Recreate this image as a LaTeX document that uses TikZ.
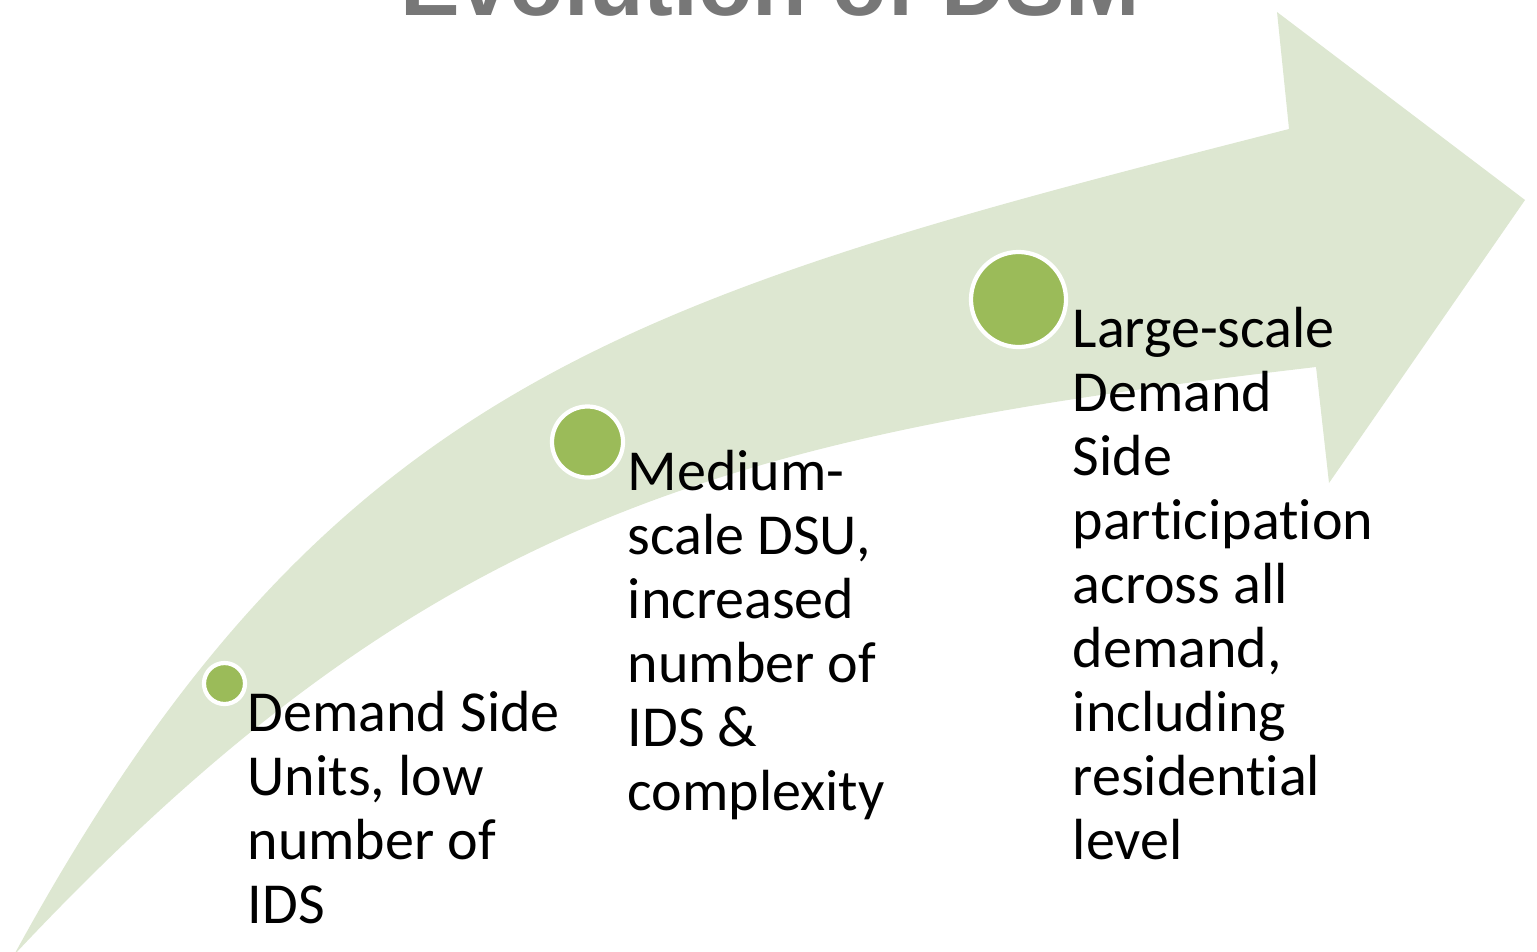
\documentclass[tikz,border=0pt]{standalone}
\usepackage{fontspec}
\setmainfont{Carlito}[Ligatures=NoCommon]
\newfontfamily\titlefont{Liberation Sans}
\definecolor{band}{RGB}{221,231,209}
\definecolor{dsmgreen}{RGB}{155,187,89}
\definecolor{titlegray}{RGB}{119,119,119}
\tikzset{dot/.style={inner sep=0pt,circle,fill=dsmgreen,draw=white,line width=1.2pt}}
\tikzset{txt/.style={inner sep=0pt,anchor=base west,text width=4cm,
  font=\fontsize{16.5}{18.2}\selectfont,
  execute at begin node={\spaceskip=0pt\xspaceskip=0pt}}}

\begin{document}
\begin{tikzpicture}
  [x=0.01cm,y=-0.01cm]
  \useasboundingbox (0,0) rectangle (1537,951);
  \coordinate (tail) at (14,955);
  \fill[band] (tail) .. controls (327,381) and (630,297) .. (1289,129)
    -- (1277,12) -- (1525,200) -- (1329,483) -- (1316,367)
    .. controls (725,436) and (427,515) .. (tail) -- cycle;
  \node[anchor=base,text=titlegray,font=\titlefont\bfseries\fontsize{25.4}{30}\selectfont]
    (title) at (770,15) {Evolution of DSM};
  \node[dot,minimum size=0.41cm] (small) at (224.5,683.5) {};
  \node[dot,minimum size=0.71cm] (medium) at (587.5,442) {};
  \node[dot,minimum size=0.95cm] (large) at (1018.5,299.5) {};
  \node[txt] (unitstext) at (247,731) {Demand Side\\Units, low\\number of\\IDS};
  \node[txt] (dsutext) at (627,490) {Medium-\\scale DSU,\\increased\\number of\\IDS \&\\complexity};
  \node[txt] (fulltext) at (1072,347) {Large-scale\\Demand\\Side\\participation\\across all\\demand,\\including\\residential\\level};
\end{tikzpicture}
\end{document}
